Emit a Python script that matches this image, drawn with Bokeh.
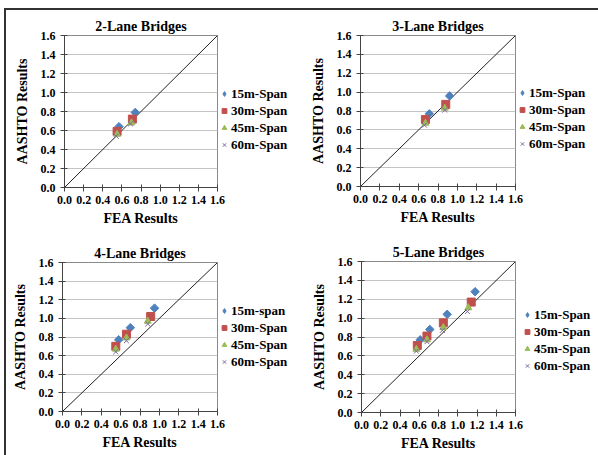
from bokeh.plotting import figure
from bokeh.layouts import column, row
from bokeh.models import Legend, LegendItem, FixedTicker
from bokeh.embed import file_html
from bokeh.resources import INLINE
import math

# ---------------- data ----------------
series_names = ["15m-Span", "30m-Span", "45m-Span", "60m-Span"]
series_names_4lane = ["15m-span", "30m-Span", "45m-Span", "60m-Span"]
ticks = [0.0, 0.2, 0.4, 0.6, 0.8, 1.0, 1.2, 1.4, 1.6]
diag_x = [0.0, 1.6]
diag_y = [0.0, 1.6]

# 2-Lane
l2_15_x = [0.57, 0.74]; l2_15_y = [0.64, 0.79]
l2_30_x = [0.55, 0.71]; l2_30_y = [0.59, 0.72]
l2_45_x = [0.55, 0.70]; l2_45_y = [0.56, 0.68]
l2_60_x = [0.54, 0.69]; l2_60_y = [0.54, 0.67]
# 3-Lane
l3_15_x = [0.71, 0.92]; l3_15_y = [0.77, 0.96]
l3_30_x = [0.67, 0.88]; l3_30_y = [0.71, 0.87]
l3_45_x = [0.67, 0.87]; l3_45_y = [0.67, 0.83]
l3_60_x = [0.66, 0.87]; l3_60_y = [0.65, 0.81]
# 4-Lane
l4_15_x = [0.58, 0.70, 0.95]; l4_15_y = [0.77, 0.90, 1.11]
l4_30_x = [0.55, 0.66, 0.91]; l4_30_y = [0.70, 0.83, 1.02]
l4_45_x = [0.55, 0.66, 0.88]; l4_45_y = [0.67, 0.79, 0.97]
l4_60_x = [0.55, 0.66, 0.88]; l4_60_y = [0.64, 0.76, 0.94]
# 5-Lane
l5_15_x = [0.61, 0.71, 0.89, 1.18]; l5_15_y = [0.77, 0.88, 1.04, 1.28]
l5_30_x = [0.58, 0.68, 0.85, 1.14]; l5_30_y = [0.71, 0.81, 0.95, 1.17]
l5_45_x = [0.57, 0.68, 0.85, 1.11]; l5_45_y = [0.67, 0.77, 0.90, 1.11]
l5_60_x = [0.57, 0.68, 0.84, 1.10]; l5_60_y = [0.65, 0.75, 0.87, 1.07]

FONT = "Liberation Serif"
COLORS = ["#4F81BD", "#C0504D", "#9BBB59", "#8064A2"]
OVERLAP = 7


def add_series(fig, xs, ys, k, legend=False):
    if k == 0:
        if legend:
            return fig.scatter(xs, ys, marker="diamond", size=9,
                               fill_color=COLORS[0], line_color=COLORS[0])
        return fig.scatter(xs, ys, marker="square", angle=math.pi / 4, size=6,
                           fill_color=COLORS[0], line_color=COLORS[0])
    if k == 1:
        return fig.scatter(xs, ys, marker="square", size=8,
                           fill_color=COLORS[1], line_color=COLORS[1])
    if k == 2:
        return fig.scatter(xs, ys, marker="triangle", size=7,
                           fill_color=COLORS[2], line_color=COLORS[2])
    return fig.scatter(xs, ys, marker="x", size=7,
                       line_color=COLORS[3], line_width=1)


def make_panel(title, data, names, borders, size, leg_w, legend_loc):
    bl, bt, br, bb = borders
    w, h = size
    p = figure(width=w + OVERLAP, height=h,
               min_border_left=bl, min_border_top=bt,
               min_border_right=br + OVERLAP, min_border_bottom=bb,
               x_range=(0, 1.6), y_range=(0, 1.6),
               output_backend="svg", toolbar_location=None,
               title=title)
    p.title.align = "center"
    p.title.text_font = FONT
    p.title.text_font_size = "14px"
    p.title.text_font_style = "bold"
    p.title.text_color = "black"
    p.title.standoff = 3
    p.background_fill_color = "white"
    p.border_fill_color = "white"
    p.outline_line_color = "#8a8a8a"
    p.outline_line_width = 1

    for ax in (p.xaxis[0], p.yaxis[0]):
        ax.ticker = FixedTicker(ticks=ticks)
        ax.minor_tick_line_color = None
        ax.major_tick_in = 3
        ax.major_tick_out = 4
        ax.axis_line_color = "#444444"
        ax.major_tick_line_color = "#444444"
        ax.major_label_text_font = FONT
        ax.major_label_text_font_size = "12px"
        ax.major_label_text_font_style = "bold"
        ax.major_label_text_color = "black"
        ax.axis_label_text_font = FONT
        ax.axis_label_text_font_size = "14px"
        ax.axis_label_text_font_style = "bold"
        ax.axis_label_text_color = "black"
    p.xaxis[0].major_label_overrides = {t: f"{t:.1f}" for t in ticks}
    p.yaxis[0].major_label_overrides = {t: f"{t:.1f}" for t in ticks}
    p.xaxis[0].axis_label = "FEA Results"
    p.yaxis[0].axis_label = "AASHTO Results"
    p.xaxis[0].major_label_standoff = 4
    p.yaxis[0].major_label_standoff = 5
    p.xaxis[0].axis_label_standoff = 4
    p.yaxis[0].axis_label_standoff = 8

    p.xgrid.grid_line_color = None
    p.ygrid.grid_line_color = "#c4c4c4"
    p.ygrid.grid_line_width = 1

    p.line(diag_x, diag_y, line_color="#222222", line_width=1)
    for k, (xs, ys) in enumerate(data):
        add_series(p, xs, ys, k)

    # legend lives in a narrow, transparent companion figure to the right
    lf = figure(width=leg_w, height=h, min_border=0,
                x_range=(-3, -2), y_range=(-3, -2),
                x_axis_location=None, y_axis_location=None,
                output_backend="svg", toolbar_location=None,
                margin=(0, 0, 0, -OVERLAP))
    lf.outline_line_color = None
    lf.xgrid.grid_line_color = None
    lf.ygrid.grid_line_color = None
    lf.background_fill_alpha = 0
    lf.border_fill_alpha = 0
    items = []
    for k, (name, (xs, ys)) in enumerate(zip(names, data)):
        r = add_series(lf, xs, ys, k, legend=True)
        items.append(LegendItem(label=name, renderers=[r]))
    leg = Legend(items=items, location=legend_loc)
    leg.label_text_font = FONT
    leg.label_text_font_size = "13px"
    leg.label_text_font_style = "bold"
    leg.label_text_color = "black"
    leg.border_line_color = None
    leg.background_fill_alpha = 0
    leg.padding = 0
    leg.margin = 0
    leg.spacing = 0
    leg.glyph_width = 12
    leg.glyph_height = 17
    leg.label_height = 17
    leg.label_standoff = 1
    lf.add_layout(leg, "center")
    return row(p, lf, spacing=0)


p1 = make_panel("2-Lane Bridges",
                [(l2_15_x, l2_15_y), (l2_30_x, l2_30_y), (l2_45_x, l2_45_y), (l2_60_x, l2_60_y)],
                series_names, (58, 25, 2, 50), (213, 227), 83, (-1, 34))
p2 = make_panel("3-Lane Bridges",
                [(l3_15_x, l3_15_y), (l3_30_x, l3_30_y), (l3_45_x, l3_45_y), (l3_60_x, l3_60_y)],
                series_names, (58, 25, 2, 51), (215, 227), 81, (-1, 34))
p3 = make_panel("4-Lane Bridges",
                [(l4_15_x, l4_15_y), (l4_30_x, l4_30_y), (l4_45_x, l4_45_y), (l4_60_x, l4_60_y)],
                series_names_4lane, (56, 25, 2, 44), (213, 218), 83, (-1, 41))
p4 = make_panel("5-Lane Bridges",
                [(l5_15_x, l5_15_y), (l5_30_x, l5_30_y), (l5_45_x, l5_45_y), (l5_60_x, l5_60_y)],
                series_names, (59, 24, 2, 43), (215, 218), 81, (4, 38))

layout = column(row(p1, p2, spacing=0), row(p3, p4, spacing=0), spacing=0,
                styles={"border-left": "2px solid #333333", "border-top": "2px solid #333333",
                        "margin-left": "4px", "margin-top": "8px"})

open("out.html", "w").write(file_html(layout, INLINE))
